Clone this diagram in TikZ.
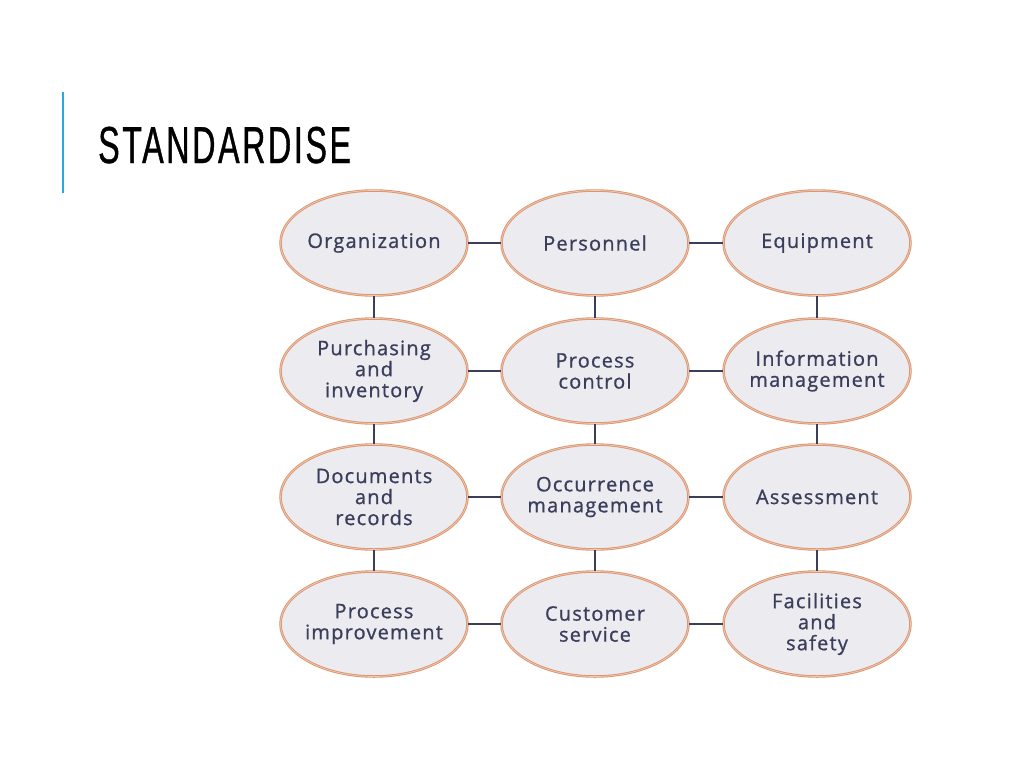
\documentclass[tikz,border=0pt]{standalone}
\usepackage{fontspec}
\setmainfont[LetterSpace=6,FakeBold=0.9]{Open Sans}
\newfontfamily\titlefont[FakeStretch=0.62,LetterSpace=5,FakeBold=0.8]{Liberation Sans}
\usetikzlibrary{shapes.geometric}
\definecolor{rim}{HTML}{D99572}
\definecolor{rimlight}{HTML}{F2C9B0}
\definecolor{disc}{HTML}{EBEBF0}
\definecolor{ink}{HTML}{3A3E5A}
\definecolor{accent}{HTML}{2AA7DC}
\begin{document}
\begin{tikzpicture}[x=1pt,y=-1pt,
    blob/.style={ellipse, draw=rim, double=rimlight, double distance=0.7pt, line width=0.9pt,
        fill=disc, minimum width=187pt, minimum height=105pt, inner xsep=-30pt, inner ysep=0pt,
        align=center, text=ink, font=\fontsize{20}{21}\selectfont},
    link/.style={draw=ink, line width=1.2pt}]
    \useasboundingbox (0,0) rectangle (1024,768);
    \draw[accent, line width=2pt] (63,92) -- (63,193);
    \node[anchor=base west, inner sep=0pt, font=\titlefont\fontsize{52}{52}\selectfont] (title) at (98,163) {STANDARDISE};

    % circles, row by row
    \foreach \name/\txt/\x/\y in {
        org/Organization/374/243, staff/Personnel/595/243, equip/Equipment/817/243,
        purch/{Purchasing\\and\\inventory}/374/371, proc/{Process\\control}/595/371, info/{Information\\management}/817/371,
        docs/{Documents\\and\\records}/374/497, occur/{Occurrence\\management}/595/497, assess/Assessment/817/497,
        improve/{Process\\improvement}/374/624, cust/{Customer\\service}/595/624, safety/{Facilities\\and\\safety}/817/624}
        \node[blob] (\name) at (\x,\y) {\txt};

    % links between neighbours
    \foreach \a/\b in {org/staff, staff/equip, purch/proc, proc/info, docs/occur, occur/assess,
        improve/cust, cust/safety, org/purch, purch/docs, docs/improve, staff/proc, proc/occur,
        occur/cust, equip/info, info/assess, assess/safety}
        \draw[link] (\a) -- (\b);

\end{tikzpicture}
\end{document}
